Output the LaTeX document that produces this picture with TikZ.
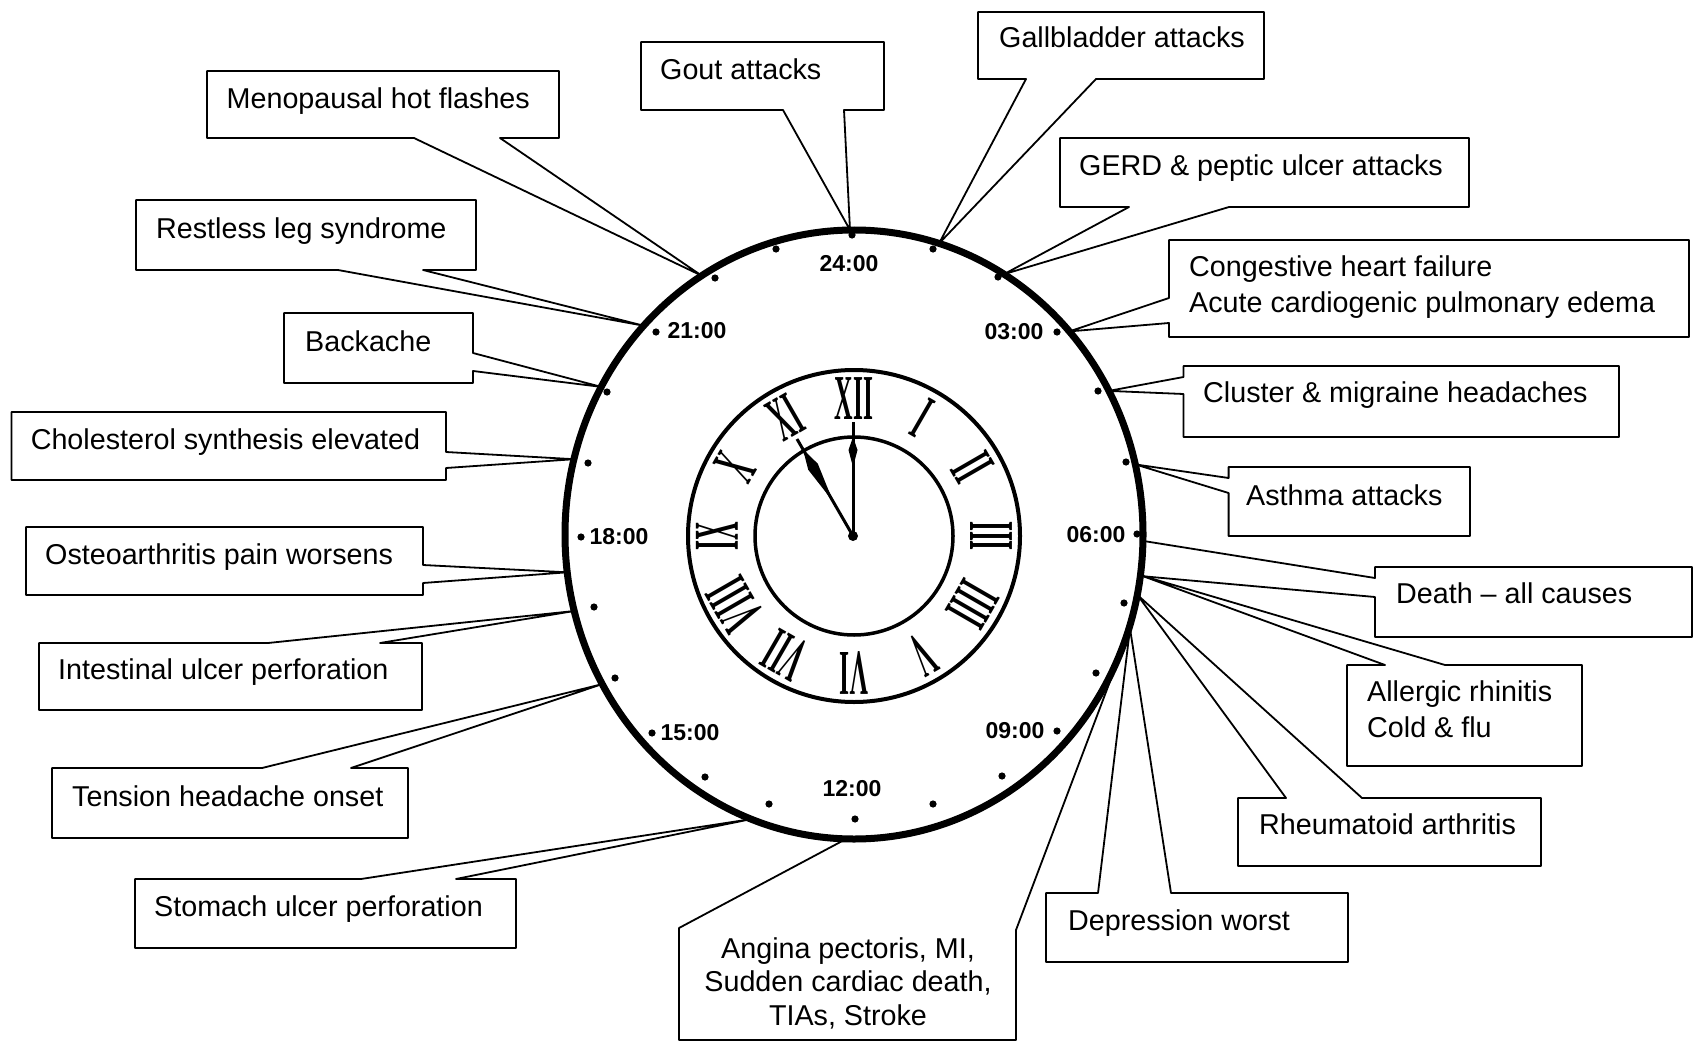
\documentclass[tikz,border=0pt]{standalone}
\usepackage{fontspec}
\usepackage{graphicx}
\setmainfont{Liberation Sans}
\newfontfamily\numfont{Liberation Serif}
\tikzset{
  cl/.style={draw=black, line width=1.8pt, line join=round},
  lbl/.style={font=\fontsize{28.7}{36.5}\selectfont, inner sep=0pt, anchor=base west},
  hr/.style={font=\bfseries\fontsize{23}{27}\selectfont, inner sep=0pt},
  num/.style={font=\numfont\bfseries\fontsize{64}{64}\selectfont, inner sep=0pt},
}
% callout outlines: x1 y1 x2 y2 b1 b2 apex1 apex2
\newcommand\callS[8]{\draw[cl] (#1,#2) -- (#3,#2) -- (#3,#4) -- (#6,#4) -- (#8) -- (#7) -- (#5,#4) -- (#1,#4) -- cycle;}
\newcommand\callN[8]{\draw[cl] (#1,#2) -- (#5,#2) -- (#7) -- (#8) -- (#6,#2) -- (#3,#2) -- (#3,#4) -- (#1,#4) -- cycle;}
\newcommand\callE[8]{\draw[cl] (#1,#2) -- (#3,#2) -- (#3,#5) -- (#7) -- (#8) -- (#3,#6) -- (#3,#4) -- (#1,#4) -- cycle;}
\newcommand\callW[8]{\draw[cl] (#1,#2) -- (#3,#2) -- (#3,#4) -- (#1,#4) -- (#1,#6) -- (#8) -- (#7) -- (#1,#5) -- cycle;}
\begin{document}
\begin{tikzpicture}[x=1pt,y=-1pt]
\fill[white] (0,0) rectangle (1694,1043);
\useasboundingbox (0,0) rectangle (1694,1043);

% apex points on the clock ring
\coordinate (a-gout) at (850,230);
\coordinate (a-gall) at (939,243.5);
\coordinate (a-meno) at (701.7,275.7);
\coordinate (a-gerd) at (1003.9,274.2);
\coordinate (a-rls) at (643.7,325.7);
\coordinate (a-chf) at (1069.3,331.4);
\coordinate (a-back) at (601.3,386.9);
\coordinate (a-clus) at (1108.8,390.9);
\coordinate (a-chol) at (574,459.2);
\coordinate (a-asth) at (1135.3,464.4);
\coordinate (a-oste) at (567.2,572.3);
\coordinate (a-dth1) at (1143,540.9);
\coordinate (a-dth2) at (1140.3,576);
\coordinate (a-alle) at (1140.4,575.2);
\coordinate (a-rheu) at (1137.3,594.8);
\coordinate (a-depr) at (1130,628.5);
\coordinate (a-ang1) at (846.2,838.9);
\coordinate (a-ang2) at (1130,628.5);
\coordinate (a-stom) at (751.2,819.1);
\coordinate (a-tens) at (602.3,684.1);
\coordinate (a-intu) at (574.3,611);

% callout outlines
\callS{641}{42}{884}{110}{783}{844}{a-gout}{a-gout}
\callS{978}{12}{1264}{79}{1026}{1096}{a-gall}{a-gall}
\callS{207}{71}{559}{138}{414}{500}{a-meno}{a-meno}
\callS{1060}{138}{1469}{207}{1129}{1229}{a-gerd}{a-gerd}
\callS{136}{200}{476}{270}{338}{423}{a-rls}{a-rls}
\callW{1169}{240}{1689}{337}{298}{323}{a-chf}{a-chf}
\callE{284}{313}{473}{383}{353}{371}{a-back}{a-back}
\callW{1183.5}{366}{1619}{437}{377}{394}{a-clus}{a-clus}
\callE{11.5}{412}{446}{480}{452}{468}{a-chol}{a-chol}
\callW{1228.6}{467}{1470}{536}{478}{493}{a-asth}{a-asth}
\callE{26}{527}{423}{595}{565}{583}{a-oste}{a-oste}
\callW{1375}{567}{1692}{637}{578}{597}{a-dth1}{a-dth2}
\callN{39}{643}{422}{710}{268}{380}{a-intu}{a-intu}
\callN{1347}{665}{1582}{766}{1385}{1445}{a-alle}{a-alle}
\callN{52}{768}{408}{838}{262}{351}{a-tens}{a-tens}
\callN{1238}{798}{1541}{866}{1286}{1362}{a-rheu}{a-rheu}
\callN{135}{879}{516}{948}{361}{456}{a-stom}{a-stom}
\callN{1046}{893}{1348}{962}{1098}{1171}{a-depr}{a-depr}
\draw[cl] (a-ang1) -- (679,928) -- (679,1040) -- (1016,1040) -- (1016,930) -- (a-ang2);

% callout texts
\node[lbl] (t-gout) at (660,79.5) {Gout attacks};
\node[lbl] (t-gall) at (999,48) {Gallbladder attacks};
\node[lbl] (t-meno) at (226.5,108.5) {Menopausal hot flashes};
\node[lbl] (t-gerd) at (1079,175.5) {GERD \& peptic ulcer attacks};
\node[lbl] (t-rls) at (156,238) {Restless leg syndrome};
\node[lbl, anchor=north west, align=left] (t-chf) at (1189,255.3) {Congestive heart failure\\Acute cardiogenic pulmonary edema};
\node[lbl] (t-back) at (305,351.5) {Backache};
\node[lbl] (t-clus) at (1203,402) {Cluster \& migraine headaches};
\node[lbl] (t-chol) at (30.6,449) {Cholesterol synthesis elevated};
\node[lbl] (t-asth) at (1246,505) {Asthma attacks};
\node[lbl] (t-oste) at (45,564) {Osteoarthritis pain worsens};
\node[lbl] (t-dth) at (1396,603) {Death – all causes};
\node[lbl] (t-intu) at (58,679) {Intestinal ulcer perforation};
\node[lbl, anchor=north west, align=left] (t-alle) at (1367,680) {Allergic rhinitis\\Cold \& flu};
\node[lbl] (t-tens) at (72,806) {Tension headache onset};
\node[lbl] (t-rheu) at (1259,834) {Rheumatoid arthritis};
\node[lbl] (t-stom) at (154,916.5) {Stomach ulcer perforation};
\node[lbl] (t-depr) at (1068,930.5) {Depression worst};
\node[lbl, anchor=north, align=center, font=\fontsize{28.7}{33.5}\selectfont] (t-ang) at (848,937) {Angina pectoris, MI,\\Sudden cardiac death,\\TIAs, Stroke};

% outer 24 h ring
\draw[line width=7pt] (854,534.5) ellipse [x radius=289, y radius=304.5];
\foreach \x/\y in {852/235,933/249,998/277,1057/332,1098/391,1126/462,1137/534,1124/603,1096/673,1057/731,1002/776,933/804,855/819,769/804,705/777,652/733,615/678,594/607,581/537,588/463,607/392,656/332,715/278,776/249}
  \fill (\x,\y) circle (3.6);
\node[hr] (h24) at (849,263.5) {24:00};
\node[hr] (h03) at (1014,332) {03:00};
\node[hr] (h06) at (1096,535) {06:00};
\node[hr] (h09) at (1015,731) {09:00};
\node[hr] (h12) at (852,789) {12:00};
\node[hr] (h15) at (690,733) {15:00};
\node[hr] (h18) at (619,537) {18:00};
\node[hr] (h21) at (697,331) {21:00};

% roman dial
\coordinate (dial) at (854,536);
\draw[line width=4pt] (dial) circle [radius=166];
\draw[line width=3.5pt] (dial) circle [radius=99];
\foreach \k/\t in {0/XII,1/I,2/II,3/III,4/IIII,5/V,6/VI,7/VII,8/VIII,9/IX,10/X,11/XI}
  \node[num, rotate=-30*\k] (n\k) at ({854+137*sin(30*\k)},{536-137*cos(30*\k)}) {\scalebox{0.4}[1]{\t}};

% hands
\draw[line width=3pt] (853,536) -- (853,422);
\fill (853,467) -- (848.5,450) -- (853,437) -- (857.5,450) -- cycle;
\draw[line width=3pt] (853,536) -- (797,439);
\fill (833,501.4) -- (817.8,463.7) -- (803,449.4) -- (808.2,469.7) -- cycle;
\fill (853,536) circle (5);
\end{tikzpicture}
\end{document}
